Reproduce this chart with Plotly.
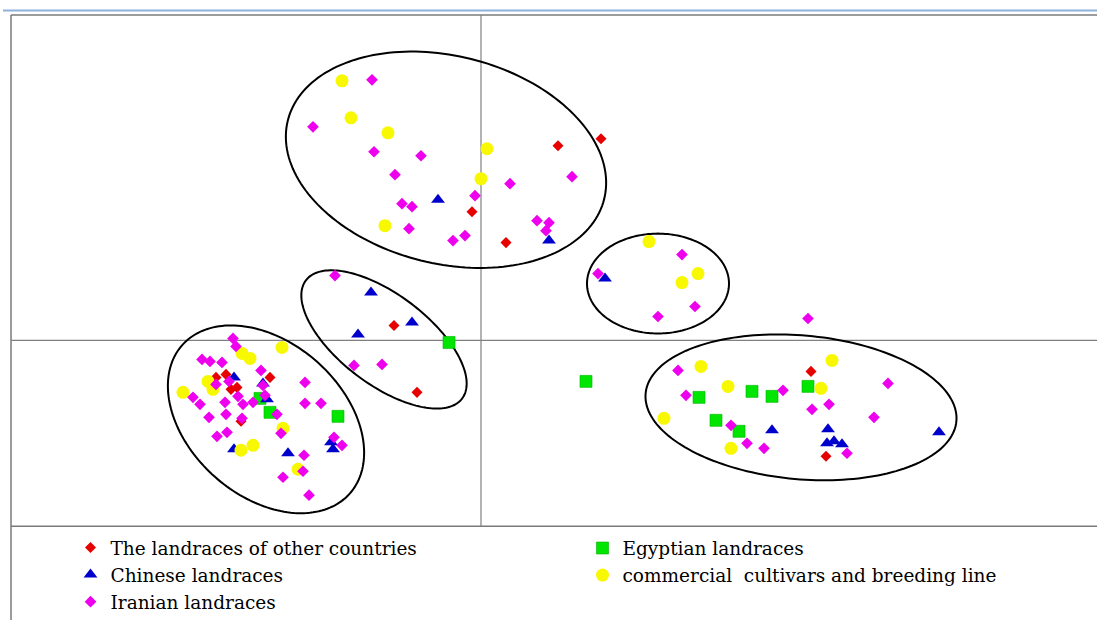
import numpy as np
import plotly.graph_objects as go

# ---- data (positions, in reference-pixel units: x right, y down) ----
other_x = [601, 558, 472, 506, 394, 417, 216, 226, 231, 237, 270, 241, 811, 826]
other_y = [139, 146, 212, 243, 326, 393, 378, 375, 390, 388, 378, 422, 372, 457]

chinese_x = [438, 549, 605, 371, 358, 412, 234, 263, 267, 234, 288, 331, 333, 772, 939, 828, 827, 834, 842]
chinese_y = [200, 241, 279, 293, 335, 323, 378, 384, 400, 450, 454, 443, 450, 431, 433, 430, 444, 442, 445]

egypt_x = [449, 586, 260, 270, 338, 699, 752, 772, 808, 716, 739]
egypt_y = [343, 382, 399, 413, 417, 398, 392, 397, 387, 421, 432]

comm_x = [342, 351, 388, 487, 481, 385, 649, 698, 682, 282, 242, 250, 208, 213, 183, 283, 253, 241, 298,
          701, 832, 728, 821, 664, 731]
comm_y = [81, 118, 133, 149, 179, 226, 242, 274, 283, 348, 354, 359, 382, 390, 393, 429, 446, 451, 470,
          367, 361, 387, 389, 419, 449]

iran_x = [372, 313, 374, 421, 395, 475, 510, 572, 402, 412, 409, 453, 465, 537, 549, 546,
          682, 598, 695, 658, 808, 335, 354, 382,
          233, 236, 202, 210, 222, 261, 305, 216, 229, 263, 193, 200, 225, 238, 243, 253, 265, 305, 321,
          277, 209, 226, 242, 217, 227, 281, 334, 342, 304, 303, 283, 309,
          678, 686, 783, 829, 812, 888, 874, 731, 747, 764, 847]
iran_y = [80, 127, 152, 156, 175, 196, 184, 177, 204, 207, 229, 241, 236, 221, 223, 231,
          255, 274, 307, 317, 319, 276, 366, 365,
          339, 347, 360, 362, 363, 371, 383, 385, 382, 386, 398, 405, 403, 397, 405, 403, 396, 404, 404,
          415, 418, 415, 419, 437, 433, 434, 438, 446, 456, 472, 478, 496,
          371, 396, 391, 405, 410, 384, 418, 426, 444, 449, 454]

# cluster ellipses: centre x, centre y, semi-major, semi-minor, tilt (deg)
ell_cx = [446, 266, 384, 658, 801]
ell_cy = [160, 420, 340, 284, 408]
ell_a = [163, 112, 98, 71, 156]
ell_b = [104, 77, 45, 50, 72]
ell_t = [14, 41.6, 37.2, 0, 5.1]

FONT = "DejaVu Serif"
W, H = 1097, 621

fig = go.Figure()

fig.add_trace(go.Scatter(x=egypt_x, y=egypt_y, mode="markers", name="Egyptian landraces",
                         marker=dict(symbol="square", size=12, color="#00E600",
                                     line=dict(color="#00B400", width=0.6)),
                         legend="legend2", legendrank=1))
fig.add_trace(go.Scatter(x=chinese_x, y=chinese_y, mode="markers", name="Chinese landraces",
                         marker=dict(symbol="triangle-up", size=12, color="#0000CC", line=dict(width=0)),
                         legend="legend", legendrank=2))
fig.add_trace(go.Scatter(x=other_x, y=other_y, mode="markers", name="The landraces of other countries",
                         marker=dict(symbol="diamond", size=8.5, color="#E60000", line=dict(width=0)),
                         legend="legend", legendrank=1))
fig.add_trace(go.Scatter(x=comm_x, y=comm_y, mode="markers", name="commercial  cultivars and breeding line",
                         marker=dict(symbol="circle", size=13, color="#F8F800", line=dict(width=0)),
                         legend="legend2", legendrank=2))
fig.add_trace(go.Scatter(x=iran_x, y=iran_y, mode="markers", name="Iranian landraces",
                         marker=dict(symbol="diamond", size=9, color="#EE00EE", line=dict(width=0)),
                         legend="legend", legendrank=3))

shapes = []
frame = dict(type="line", xref="x", yref="y", layer="below", line=dict(color="#7a7a7a", width=1.5))
shapes.append(dict(frame, x0=11, x1=1097, y0=15, y1=15))
shapes.append(dict(frame, x0=11, x1=11, y0=15, y1=621))
shapes.append(dict(frame, x0=11, x1=1097, y0=527, y1=527))
cross = dict(type="line", xref="x", yref="y", layer="below", line=dict(color="#808080", width=1.2))
shapes.append(dict(cross, x0=481, x1=481, y0=15, y1=527))
shapes.append(dict(cross, x0=11, x1=1097, y0=341, y1=341))
shapes.append(dict(type="line", xref="x", yref="y", layer="below", x0=3, x1=1097, y0=10.5, y1=10.5,
                   line=dict(color="#8EB1DC", width=2)))

tt = np.linspace(0, 2 * np.pi, 181)
for cx, cy, a, b, t in zip(ell_cx, ell_cy, ell_a, ell_b, ell_t):
    th = np.deg2rad(t)
    ex = cx + a * np.cos(tt) * np.cos(th) - b * np.sin(tt) * np.sin(th)
    ey = cy + a * np.cos(tt) * np.sin(th) + b * np.sin(tt) * np.cos(th)
    path = "M " + " L ".join(f"{px:.2f},{py:.2f}" for px, py in zip(ex, ey)) + " Z"
    shapes.append(dict(type="path", path=path, xref="x", yref="y", layer="below",
                       line=dict(color="black", width=2)))

legend_common = dict(orientation="v", xanchor="left", yanchor="top", bgcolor="rgba(0,0,0,0)",
                     borderwidth=0, font=dict(family=FONT, size=18.5, color="black"),
                     itemsizing="trace", traceorder="normal", tracegroupgap=0)

fig.update_layout(
    width=W, height=H,
    margin=dict(l=0, r=0, t=0, b=0),
    paper_bgcolor="white", plot_bgcolor="white",
    xaxis=dict(range=[0, W], visible=False, fixedrange=True),
    yaxis=dict(range=[H, 0], visible=False, fixedrange=True),
    shapes=shapes,
    showlegend=True,
    legend=dict(legend_common, x=70.5 / W, y=1 - 529.5 / H),
    legend2=dict(legend_common, x=582.5 / W, y=1 - 529.5 / H),
    hovermode="closest",
)

fig.write_html(
    "out.html",
    config={"displayModeBar": False},
    post_script="document.body.style.margin='0';document.documentElement.style.overflow='hidden';",
)
